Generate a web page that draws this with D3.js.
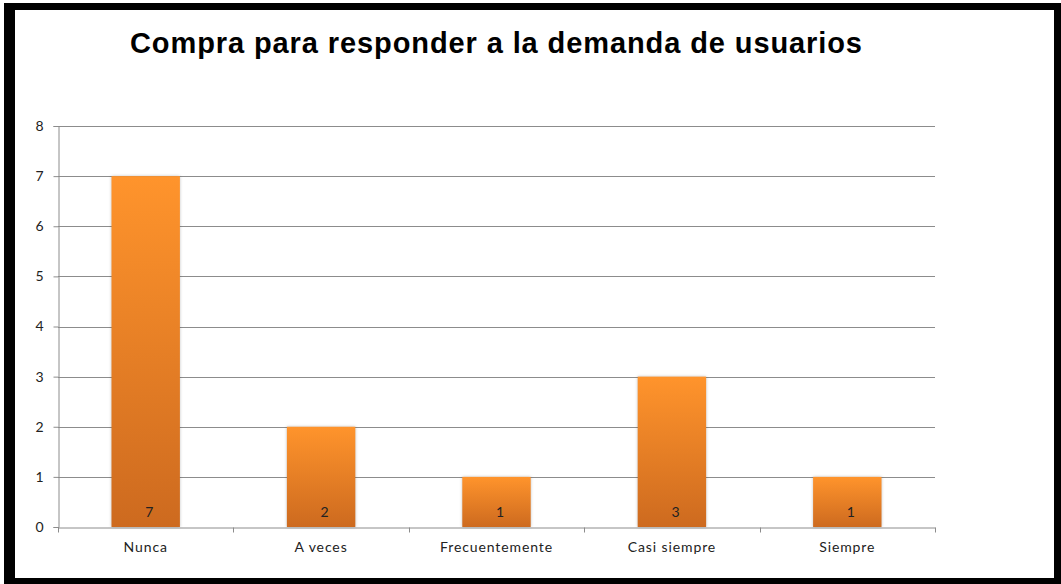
<!DOCTYPE html>
<html>
<head>
<meta charset="utf-8">
<script src="https://cdn.jsdelivr.net/npm/d3@7"></script>
<style>
  body { margin: 0; background: #fff; }
  svg { display: block; }
</style>
</head>
<body>
<div id="chart"></div>
<script>
var categories = ["Nunca", "A veces", "Frecuentemente", "Casi siempre", "Siempre"];
var values = [7, 2, 1, 3, 1];
var yTicks = [0, 1, 2, 3, 4, 5, 6, 7, 8];
var title = "Compra para responder a la demanda de usuarios";

var W = 1061, H = 584,
    margin = {top: 126, right: 126, bottom: 57, left: 58},
    width = W - margin.left - margin.right,
    height = H - margin.top - margin.bottom;

var svg = d3.select("#chart").append("svg").attr("width", W).attr("height", H);

// frame
svg.append("rect").attr("x", 0).attr("y", 0).attr("width", W).attr("height", H).attr("fill", "#fff");
svg.append("rect").attr("x", 9.5).attr("y", 6.5).attr("width", W - 13).attr("height", H - 9)
  .attr("fill", "none").attr("stroke", "#000").attr("stroke-width", 7);
svg.append("rect").attr("x", 4).attr("y", 3).attr("width", 11).attr("height", H - 3).attr("fill", "#000");

var defs = svg.append("defs");
var grad = defs.append("linearGradient").attr("id", "barGrad")
  .attr("x1", 0).attr("y1", 0).attr("x2", 0).attr("y2", 1);
grad.append("stop").attr("offset", "0%").attr("stop-color", "#FF942C");
grad.append("stop").attr("offset", "100%").attr("stop-color", "#CD6A1F");

svg.append("text")
  .attr("x", 496).attr("y", 53)
  .attr("text-anchor", "middle")
  .attr("font-family", "Liberation Sans, Arial, sans-serif")
  .attr("font-weight", "bold")
  .attr("font-size", 29)
  .attr("textLength", 732)
  .attr("lengthAdjust", "spacing")
  .attr("fill", "#000")
  .text(title);

var g = svg.append("g").attr("transform", "translate(" + margin.left + "," + margin.top + ")");

var x = d3.scaleBand().domain(categories).range([0, width]).padding(0);
var y = d3.scaleLinear().domain([0, 8]).range([height, 0]);

var labelFont = function(sel) {
  sel.attr("font-family", "Lato, Open Sans, sans-serif")
    .attr("font-size", 14)
    .attr("letter-spacing", 0.9)
    .attr("fill", "#222");
};

// gridlines
g.append("g").selectAll("line")
  .data(yTicks.filter(function(d) { return d > 0; }))
  .enter().append("line")
  .attr("x1", 0).attr("x2", width)
  .attr("y1", function(d) { return Math.round(y(d)) + 0.5; })
  .attr("y2", function(d) { return Math.round(y(d)) + 0.5; })
  .attr("stroke", "#8c8c8c");

// y axis
var yAxis = g.append("g").attr("transform", "translate(0.5,0)")
  .call(d3.axisLeft(y).tickValues(yTicks).tickSize(5).tickPadding(9).tickFormat(d3.format("d")));
yAxis.select(".domain").attr("stroke", "#8c8c8c");
yAxis.selectAll(".tick line").attr("stroke", "#8c8c8c");
yAxis.selectAll("text").call(labelFont);

// bars
var barW = x.bandwidth() * 0.39;
g.append("g").selectAll("rect")
  .data(values)
  .enter().append("rect")
  .attr("x", function(d, i) { return x(categories[i]) + (x.bandwidth() - barW) / 2; })
  .attr("y", function(d) { return y(d); })
  .attr("width", barW)
  .attr("height", function(d) { return height - y(d); })
  .attr("fill", "url(#barGrad)")
  .style("filter", "drop-shadow(0px 0px 1.5px rgba(0,0,0,0.25))");

// value labels
g.append("g").selectAll("text")
  .data(values)
  .enter().append("text")
  .attr("x", function(d, i) { return x(categories[i]) + x.bandwidth() / 2 + 4; })
  .attr("y", height - 10)
  .attr("text-anchor", "middle")
  .call(labelFont)
  .text(function(d) { return d; });

// x axis
var xAxis = g.append("g").attr("transform", "translate(0," + (height + 0.5) + ")")
  .call(d3.axisBottom(x).tickSize(0).tickPadding(15));
xAxis.select(".domain").attr("stroke", "#8c8c8c");
xAxis.selectAll("text").call(labelFont);
// category separators
xAxis.append("g").selectAll("line")
  .data(d3.range(categories.length + 1))
  .enter().append("line")
  .attr("x1", function(i) { return Math.round(i * x.step()) + 0.5; })
  .attr("x2", function(i) { return Math.round(i * x.step()) + 0.5; })
  .attr("y1", 0).attr("y2", 5)
  .attr("stroke", "#8c8c8c");
</script>
</body>
</html>
